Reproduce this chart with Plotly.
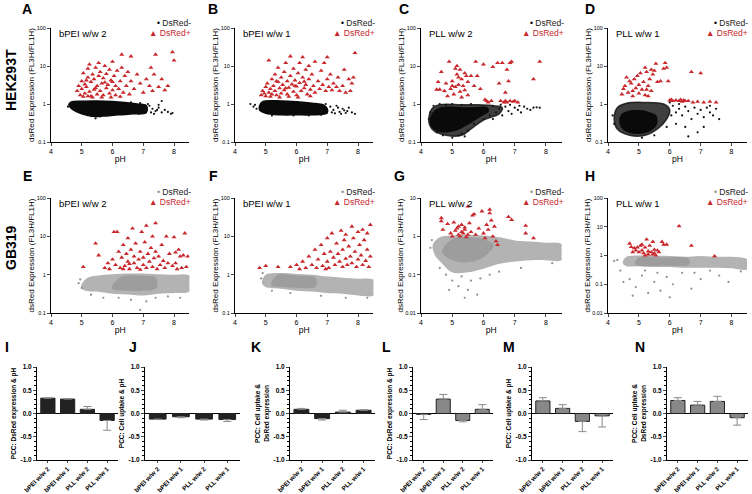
import plotly.graph_objects as go

W, H = 752, 494
FONT = "Liberation Sans"
RED = "#c9282d"
BLACK = "#111111"
GRAY = "#a3a3a3"

# ---------------- scatter data (pH, dsRed expression) ----------------
# A: HEK293T bPEI w/w 2
A_neg_core = [(4.58,0.95),(4.65,1.12),(5.0,1.18),(5.5,1.2),(6.0,1.17),(6.4,1.1),(6.8,1.0),(7.1,0.9),
              (7.1,0.6),(6.7,0.55),(6.2,0.52),(5.7,0.48),(5.4,0.47),(5.0,0.55),(4.7,0.72)]
A_neg_pts = [(7.2,0.9),(7.3,0.75),(7.4,0.65),(7.5,0.8),(7.6,0.6),(7.7,0.7),(7.8,0.62),(7.9,0.55),(7.6,1.2),
             (7.5,0.95),(7.25,0.6),(7.15,1.0),(6.9,1.05),(6.6,1.1),(7.0,0.58),(6.85,0.55),(5.45,0.42),(5.3,0.48),
             (5.6,0.47),(4.55,0.85),(7.95,0.58),(7.35,0.55),(7.45,0.7),(6.95,0.72),(7.05,0.68)]
A_pos = [(4.85,2.2),(4.9,3.0),(4.95,1.7),(5.0,2.5),(5.0,4.0),(5.05,6.5),(5.1,1.9),(5.1,3.3),(5.15,2.8),(5.2,5.0),
         (5.2,8.5),(5.25,2.1),(5.25,11),(5.3,3.8),(5.3,1.6),(5.35,6.0),(5.4,2.4),(5.4,4.5),(5.45,9.0),(5.5,3.0),
         (5.5,1.8),(5.55,5.5),(5.55,12),(5.6,2.2),(5.6,7.0),(5.65,3.5),(5.7,1.7),(5.7,4.8),(5.75,10),(5.8,2.6),
         (5.8,6.2),(5.85,3.2),(5.9,1.9),(5.9,8.0),(5.95,4.2),(6.0,2.3),(6.0,13),(6.05,5.5),(6.1,3.0),(6.1,1.7),
         (6.15,7.5),(6.2,2.5),(6.25,4.0),(6.3,20),(6.3,9.0),(6.35,2.0),(6.4,5.5),(6.45,3.0),(6.5,7.0),(6.55,1.8),
         (6.6,18),(6.6,4.0),(6.7,2.5),(6.8,6.0),(6.9,3.5),(7.0,2.0),(7.1,4.5),(7.2,3.0),(7.3,2.2),(7.35,6.0),
         (7.4,20),(7.5,2.8),(7.6,4.5),(7.7,2.3),(7.8,3.0),(7.95,23),(8.0,14),(7.25,9),(5.05,1.55),(5.35,1.5),
         (5.65,1.5),(5.95,1.5),(6.25,1.55),(5.15,4.2),(5.45,2.6),(5.75,3.7),(6.0,3.8),(5.2,1.6)]

# B: HEK293T bPEI w/w 1
B_neg_core = [(4.8,0.9),(4.9,1.15),(5.5,1.2),(6.0,1.15),(6.5,1.05),(6.9,0.92),(7.0,0.75),(7.0,0.58),(6.5,0.52),
              (6.0,0.52),(5.5,0.52),(5.0,0.57),(4.8,0.7)]
B_neg_pts = [(4.5,1.0),(4.6,0.85),(4.7,0.75),(4.65,0.95),(7.1,0.85),(7.2,0.7),(7.3,0.9),(7.4,0.62),(7.5,0.75),
             (7.6,0.58),(7.7,0.8),(7.8,0.6),(7.9,0.55),(7.45,0.55),(7.15,0.6),(6.95,1.0),(7.35,0.8),(7.55,0.68),
             (7.25,0.57),(5.2,0.5),(5.9,0.5),(6.4,0.5),(6.8,0.52),(7.65,0.65)]
B_pos = [(4.85,1.7),(4.9,2.2),(4.95,1.9),(5.0,2.8),(5.0,1.6),(5.05,3.5),(5.1,2.0),(5.1,14),(5.15,2.5),(5.2,4.5),
         (5.2,1.8),(5.25,3.0),(5.3,6.0),(5.3,2.2),(5.35,1.7),(5.4,3.8),(5.4,9.0),(5.45,2.6),(5.5,5.0),(5.5,1.9),
         (5.55,3.2),(5.6,7.0),(5.6,2.3),(5.65,12),(5.7,4.0),(5.7,1.8),(5.75,2.7),(5.8,18),(5.8,5.5),(5.85,3.3),
         (5.9,2.1),(5.9,8.5),(5.95,4.2),(6.0,1.7),(6.0,2.9),(6.05,6.5),(6.1,12),(6.1,3.6),(6.15,2.2),(6.2,5.0),
         (6.2,17),(6.25,2.6),(6.3,8.0),(6.3,3.2),(6.35,1.8),(6.4,4.5),(6.4,10),(6.45,2.4),(6.5,6.0),(6.55,3.0),
         (6.6,13),(6.6,2.0),(6.7,4.0),(6.75,2.5),(6.8,7.5),(6.85,3.2),(6.9,12),(6.95,2.2),(7.0,17),(7.0,4.5),
         (7.05,2.8),(7.1,6.0),(7.15,2.3),(7.2,3.5),(7.3,2.8),(7.35,5.0),(7.4,2.2),(7.5,3.0),(7.55,8),(7.6,2.0),
         (7.7,4.5),(7.75,2.2),(7.8,3.5),(7.9,22),(7.85,5.0),(5.15,1.55),(5.45,1.5),(5.75,1.55),(6.05,1.5),
         (6.45,1.6),(5.35,4.0),(5.65,2.6),(5.95,3.0),(6.25,3.9)]

# C: HEK293T PLL w/w 2
C_neg_wide = [(4.25,0.35),(4.35,0.75),(4.6,0.95),(5.3,0.95),(5.8,0.95),(6.3,0.9),(6.6,0.8),(6.5,0.55),(6.0,0.38),
              (5.6,0.22),(5.3,0.15),(4.8,0.15),(4.4,0.2)]
C_neg_core = [(4.3,0.32),(4.4,0.6),(4.6,0.78),(5.0,0.82),(5.4,0.78),(5.8,0.8),(6.1,0.8),(6.15,0.65),(5.9,0.48),
              (5.5,0.3),(5.2,0.22),(4.9,0.19),(4.6,0.19),(4.4,0.23)]
C_neg_pts = [(4.25,0.4),(4.3,0.6),(4.4,0.9),(4.6,1.0),(4.8,0.95),(5.0,1.0),(5.3,0.95),(5.6,1.0),(5.3,0.17),
             (5.4,0.14),(5.2,0.15),(5.5,0.2),(5.7,0.3),(6.0,0.4),(6.3,0.9),(6.4,0.6),(6.5,0.75),(6.6,0.5),
             (6.7,0.85),(6.8,0.65),(6.9,0.55),(7.0,0.8),(7.1,0.7),(7.2,0.6),(7.3,0.85),(7.4,0.75),(7.5,0.7),
             (7.6,0.8),(7.7,0.82),(7.8,0.8),(6.2,0.5),(6.3,0.4),(4.7,0.15),(4.5,0.18),(5.0,0.13),(6.55,0.95),
             (6.85,0.95),(7.15,0.9)]
C_pos = [(4.5,2.4),(4.6,2.4),(4.65,7.0),(4.75,2.2),(4.8,3.5),(4.85,1.6),(4.9,13),(4.95,2.5),(5.0,4.0),(5.05,1.8),
         (5.1,8.5),(5.1,2.8),(5.15,6.0),(5.15,10),(5.2,3.2),(5.2,5.0),(5.25,2.1),(5.25,8.0),(5.3,4.5),(5.3,1.5),
         (5.35,3.0),(5.4,6.5),(5.4,2.3),(5.45,5.5),(5.5,1.7),(5.5,3.8),(5.6,5.5),(5.7,3.0),(5.75,13),(5.8,5.5),
         (5.9,2.5),(6.0,11),(6.05,1.3),(6.1,1.2),(6.15,1.1),(6.3,9.5),(6.45,12),(6.5,3.5),(6.55,1.2),(6.6,12),
         (6.65,1.1),(6.7,2.0),(6.7,1.2),(6.75,8.0),(6.75,1.1),(6.8,4.0),(6.85,12),(6.9,13),(6.85,1.2),(7.0,1.2),
         (7.1,1.1),(7.6,4.5),(7.8,13),(5.0,3.0),(4.55,3.8),(6.25,1.2),(6.95,1.15)]

# D: HEK293T PLL w/w 1
D_neg_wide = [(4.2,0.4),(4.3,0.8),(4.6,1.05),(5.2,1.1),(5.8,1.0),(6.0,0.7),(5.9,0.4),(5.6,0.22),(5.2,0.15),
              (4.7,0.15),(4.3,0.22)]
D_neg_core = [(4.4,0.3),(4.45,0.52),(4.7,0.65),(5.0,0.66),(5.3,0.6),(5.55,0.48),(5.55,0.28),(5.3,0.19),(5.0,0.17),
              (4.7,0.18),(4.5,0.22)]
D_neg_pts = [(6.1,0.9),(6.2,0.6),(6.3,0.75),(6.4,0.5),(6.5,0.85),(6.6,0.65),(6.7,0.4),(6.8,0.8),(6.9,0.55),
             (7.0,0.7),(7.1,0.45),(7.2,0.8),(7.3,0.6),(7.4,0.5),(7.5,0.75),(7.6,0.4),(6.2,0.3),(6.5,0.25),
             (6.9,0.18),(7.1,0.25),(6.0,1.1),(6.3,1.0),(5.9,0.25),(4.15,0.5),(4.2,0.3),(5.1,0.13),(5.5,0.15),
             (6.6,0.14),(7.3,0.9),(6.05,0.5)]
D_pos = [(4.45,1.8),(4.5,2.5),(4.55,3.0),(4.6,5.0),(4.65,2.0),(4.7,4.0),(4.75,3.5),(4.8,2.2),(4.8,1.6),(4.85,4.5),
         (4.9,2.6),(4.95,5.5),(5.0,1.9),(5.0,3.2),(5.05,6.5),(5.1,2.4),(5.15,3.8),(5.2,9.0),(5.2,1.7),(5.25,7.0),
         (5.3,3.0),(5.3,1.6),(5.35,4.5),(5.4,8.0),(5.4,2.2),(5.45,6.0),(5.5,7.5),(5.55,11.5),(5.6,3.8),(5.7,4.0),
         (5.8,8.5),(5.85,12),(5.9,9.0),(5.95,4.0),(6.0,1.25),(6.05,1.3),(6.1,1.2),(6.2,1.25),(6.3,1.2),(6.4,1.15),
         (6.5,1.2),(6.6,1.2),(6.7,7.0),(6.75,1.1),(6.9,1.15),(7.0,6.5),(7.1,1.1),(7.3,1.15),(7.5,1.1),(5.25,2.4),
         (6.35,1.3),(6.45,1.25)]

# E: GB319 bPEI w/w 2
E_neg_wide = [(5.0,0.5),(5.2,0.8),(5.6,0.92),(6.0,0.98),(6.5,1.02),(7.0,1.02),(7.5,0.98),(8.0,0.95),(8.5,0.9),
              (8.5,0.38),(8.0,0.35),(7.5,0.33),(7.0,0.3),(6.5,0.32),(6.0,0.33),(5.5,0.38),(5.1,0.4)]
E_neg_core = [(6.0,0.45),(6.3,0.85),(7.0,0.9),(7.4,0.8),(7.4,0.45),(7.0,0.4),(6.5,0.4)]
E_neg_pts = [(4.9,0.6),(5.0,0.45),(4.95,0.75),(6.9,0.12),(6.6,0.22),(7.1,0.2),(5.7,0.25),(8.2,0.25),(7.8,0.27),
             (6.2,0.25),(5.3,0.3),(7.4,0.25)]
E_pos = [(5.05,1.6),(5.45,6.5),(5.55,3.2),(5.75,1.5),(5.85,2.0),(5.9,1.4),(6.0,2.5),(6.05,13),(6.1,1.8),(6.15,13),
         (6.2,4.0),(6.25,1.5),(6.3,2.8),(6.35,6.0),(6.4,1.7),(6.45,3.5),(6.5,9.0),(6.5,2.2),(6.55,1.4),(6.6,4.5),
         (6.65,16),(6.7,2.0),(6.7,3.0),(6.75,6.5),(6.8,1.5),(6.85,2.5),(6.9,4.0),(6.95,13),(7.0,1.8),(7.0,2.8),
         (7.05,7.0),(7.1,19),(7.1,1.5),(7.15,3.5),(7.2,2.2),(7.25,5.0),(7.3,1.6),(7.35,2.7),(7.4,22),(7.4,4.0),
         (7.45,1.4),(7.5,3.0),(7.55,1.8),(7.6,6.0),(7.65,2.3),(7.7,1.5),(7.75,10),(7.8,2.0),(7.85,3.5),(7.95,1.7),
         (8.0,9.5),(8.05,2.0),(8.1,1.4),(8.15,4.5),(8.2,3.0),(8.25,1.5),(8.3,3.2),(8.35,12),(8.4,1.6),(8.45,3.0),
         (6.35,1.4),(6.9,1.35),(7.3,10),(8.05,3.8),(6.55,1.9)]

# F: GB319 bPEI w/w 1
F_neg_wide = [(4.9,0.6),(5.0,0.95),(5.5,1.05),(6.0,1.0),(6.5,0.95),(7.0,0.85),(7.5,0.8),(8.0,0.75),(8.5,0.7),
              (8.5,0.3),(8.0,0.3),(7.5,0.33),(7.0,0.35),(6.5,0.38),(6.0,0.4),(5.5,0.45),(5.0,0.5)]
F_neg_core = [(5.2,0.55),(5.4,0.95),(6.0,0.9),(6.6,0.8),(6.6,0.5),(6.0,0.48),(5.5,0.5)]
F_neg_pts = [(4.85,0.8),(4.9,1.1),(5.2,0.38),(6.8,0.28),(7.6,0.25),(8.3,0.25),(5.8,0.33)]
F_pos = [(4.8,1.5),(5.0,1.7),(5.4,1.6),(5.8,1.6),(6.0,1.8),(6.2,2.2),(6.3,1.5),(6.4,3.0),(6.5,1.8),(6.6,4.5),
         (6.65,1.5),(6.7,2.5),(6.8,6.0),(6.85,1.7),(6.9,3.5),(7.0,2.2),(7.0,9.0),(7.05,1.5),(7.1,4.0),(7.15,12),
         (7.2,2.8),(7.25,1.8),(7.3,6.5),(7.35,3.5),(7.4,2.2),(7.45,14),(7.5,1.6),(7.5,4.5),(7.55,8.0),(7.6,2.6),
         (7.65,1.8),(7.7,5.5),(7.75,3.0),(7.8,18),(7.8,2.0),(7.85,9.0),(7.9,4.0),(7.95,1.6),(8.0,2.5),(8.0,13),
         (8.05,6.0),(8.1,3.2),(8.15,1.8),(8.2,8.0),(8.25,2.3),(8.3,12),(8.3,4.5),(8.35,1.6),(8.4,3.0),(8.4,20),
         (6.1,1.4),(6.95,1.4),(7.6,11),(8.15,15)]

# G: GB319 PLL w/w 2
G_neg_wide = [(4.4,0.6),(4.6,0.9),(5.0,1.0),(5.5,1.05),(6.0,1.0),(6.5,0.9),(7.0,0.75),(7.5,0.7),(8.0,0.65),
              (8.5,0.6),(8.5,0.25),(8.0,0.25),(7.5,0.25),(7.0,0.23),(6.5,0.2),(6.0,0.15),(5.5,0.12),(5.0,0.12),
              (4.7,0.2),(4.45,0.35)]
G_neg_core = [(4.7,0.4),(5.0,0.8),(5.5,0.9),(6.0,0.8),(6.3,0.6),(6.0,0.3),(5.5,0.22),(5.0,0.25)]
G_neg_pts = [(4.3,0.5),(4.35,0.8),(4.6,0.15),(4.8,0.1),(5.0,0.07),(5.2,0.05),(5.3,0.09),(5.5,0.04),(5.8,0.03),
             (5.6,0.07),(5.9,0.08),(6.2,0.1),(4.9,0.04),(5.4,0.025),(6.5,0.12),(7.2,0.15),(8.2,0.2)]
G_pos = [(4.65,3.0),(4.65,2.5),(4.7,1.5),(4.85,2.1),(4.95,1.2),(5.05,2.3),(5.1,1.4),(5.15,1.6),(5.2,1.1),(5.2,1.8),
         (5.25,1.0),(5.3,1.3),(5.3,2.0),(5.35,1.2),(5.4,1.5),(5.45,0.95),(5.5,6.0),(5.5,1.1),(5.55,2.2),(5.6,1.3),
         (5.65,3.5),(5.7,3.8),(5.75,1.1),(5.85,1.6),(5.95,4.5),(6.0,1.2),(6.05,0.9),(6.1,2.0),(6.15,1.5),(6.2,5.0),
         (6.2,4.0),(6.25,2.6),(6.3,1.0),(6.35,1.8),(6.4,0.75),(6.45,0.6),(6.8,3.2),(6.9,2.7),(7.35,1.9),(7.35,1.2),
         (7.6,0.9),(5.4,1.7),(5.0,1.0)]

# H: GB319 PLL w/w 1
H_neg_wide = [(4.5,0.55),(4.6,0.85),(5.0,0.95),(5.5,0.95),(6.0,0.9),(6.5,0.85),(7.0,0.9),(7.5,0.85),(8.0,0.85),
              (8.5,0.7),(8.5,0.35),(8.0,0.38),(7.5,0.4),(7.0,0.4),(6.5,0.4),(6.0,0.42),(5.5,0.42),(5.0,0.45),
              (4.6,0.45)]
H_neg_core = [(4.9,0.5),(5.0,0.8),(5.8,0.8),(6.6,0.75),(6.6,0.5),(5.8,0.48)]
H_neg_pts = [(4.3,0.7),(4.2,0.65),(4.4,0.3),(4.7,0.15),(4.9,0.08),(5.1,0.2),(5.3,0.05),(5.5,0.12),(5.7,0.06),
             (5.9,0.18),(6.1,0.1),(6.4,0.25),(6.7,0.07),(7.0,0.15),(7.3,0.3),(7.6,0.2),(7.9,0.12),(8.3,0.28),
             (5.2,0.3),(4.8,0.04),(6.0,0.035),(6.8,0.25),(4.5,0.12),(5.6,0.25)]
H_pos = [(4.7,2.6),(4.75,2.0),(4.8,1.3),(4.85,1.8),(4.9,1.5),(4.95,1.9),(5.0,1.3),(5.05,2.2),(5.1,1.5),(5.15,1.2),
         (5.2,1.9),(5.25,3.6),(5.3,1.4),(5.3,1.1),(5.35,2.2),(5.4,1.3),(5.45,3.0),(5.5,1.2),(5.5,1.6),(5.55,1.0),
         (5.6,1.5),(5.65,1.3),(5.75,3.0),(5.8,2.4),(5.9,2.4),(6.3,10.5),(6.7,2.2),(7.45,0.95),(5.2,1.0),(5.45,1.1),
         (5.1,2.4)]

CONDITIONS = ["bPEI w/w 2", "bPEI w/w 1", "PLL w/w 2", "PLL w/w 1"]
PH_TICKS = [4, 5, 6, 7, 8]

# ---------------- bar data (Pearson correlation coefficients) ----------------
I_mean = [0.33, 0.31, 0.09, -0.15];  I_err = [0.005, 0.01, 0.06, 0.21]
J_mean = [-0.12, -0.07, -0.12, -0.13]; J_err = [0.01, 0.02, 0.02, 0.04]
K_mean = [0.09, -0.11, 0.03, 0.07];  K_err = [0.02, 0.03, 0.04, 0.01]
L_mean = [-0.02, 0.31, -0.15, 0.09]; L_err = [0.11, 0.10, 0.03, 0.10]
M_mean = [0.27, 0.11, -0.17, -0.05]; M_err = [0.07, 0.08, 0.22, 0.24]
N_mean = [0.28, 0.18, 0.26, -0.09];  N_err = [0.06, 0.08, 0.11, 0.16]
PCC_TICKS = [-1.0, -0.5, 0.0, 0.5, 1.0]
PCC_LABELS = ["-1.0", "-0.5", "0.0", "0.5", "1.0"]

# ---------------- layout helpers ----------------
def fx(px):
    return px / W

def fy(py):
    return 1 - py / H

fig = go.Figure()
annotations = []

def unzip(pairs):
    return [p[0] for p in pairs], [p[1] for p in pairs]

scatter_panels = [
    ("A", 51, 189.4, 28, 142, [-1, 2], BLACK, [("core", A_neg_core)], A_neg_pts, A_pos, CONDITIONS[0]),
    ("B", 235, 373.4, 28, 142, [-1, 2], BLACK, [("core", B_neg_core)], B_neg_pts, B_pos, CONDITIONS[1]),
    ("C", 421, 561.6, 28, 142, [-1, 2], BLACK, [("wide", C_neg_wide), ("core", C_neg_core)], C_neg_pts, C_pos, CONDITIONS[2]),
    ("D", 608, 747.0, 28, 142, [-1, 2], BLACK, [("wide", D_neg_wide), ("core", D_neg_core)], D_neg_pts, D_pos, CONDITIONS[3]),
    ("E", 51, 189.4, 198, 313, [-1, 2], GRAY, [("wide", E_neg_wide), ("core", E_neg_core)], E_neg_pts, E_pos, CONDITIONS[0]),
    ("F", 235, 373.4, 198, 313, [-1, 2], GRAY, [("wide", F_neg_wide), ("core", F_neg_core)], F_neg_pts, F_pos, CONDITIONS[1]),
    ("G", 421, 561.6, 198, 313, [-2, 1], GRAY, [("wide", G_neg_wide), ("core", G_neg_core)], G_neg_pts, G_pos, CONDITIONS[2]),
    ("H", 608, 747.0, 198, 313, [-2, 2], GRAY, [("wide", H_neg_wide), ("core", H_neg_core)], H_neg_pts, H_pos, CONDITIONS[3]),
]

LETTER_POS = {"A": (27, 9), "B": (213, 9), "C": (404, 9), "D": (590, 9),
              "E": (27, 176), "F": (213, 176), "G": (399, 176), "H": (590, 176),
              "I": (7, 347), "J": (133, 347), "K": (256, 347), "L": (386, 347),
              "M": (509, 347), "N": (640, 347)}

def fill_colors(neg_color, kind):
    if neg_color == BLACK:
        return ("#0a0a0a", "#0a0a0a") if kind == "core" else ("rgba(15,15,15,0.8)", "rgba(15,15,15,0.8)")
    return ("#9d9d9d", "#9d9d9d") if kind == "core" else ("#b3b3b3", "#b3b3b3")

axis_id = 0
for (letter, x0, x1, yt, yb, yr, negc, hulls, negpts, pospts, cond) in scatter_panels:
    axis_id += 1
    xa = "x" if axis_id == 1 else f"x{axis_id}"
    ya = "y" if axis_id == 1 else f"y{axis_id}"
    for kind, hull in hulls:
        hx, hy = unzip(hull + hull[:1])
        fc, lc = fill_colors(negc, kind)
        fig.add_trace(go.Scatter(x=hx, y=hy, mode="lines", fill="toself", fillcolor=fc,
                                 line=dict(color=lc, width=1.5, shape="spline", smoothing=1.0),
                                 xaxis=xa, yaxis=ya, hoverinfo="skip"))
    nx, ny = unzip(negpts)
    fig.add_trace(go.Scatter(x=nx, y=ny, mode="markers", xaxis=xa, yaxis=ya,
                             marker=dict(color=negc if negc == BLACK else "#8f8f8f", size=2.2)))
    px_, py_ = unzip(pospts)
    fig.add_trace(go.Scatter(x=px_, y=py_, mode="markers", xaxis=xa, yaxis=ya,
                             marker=dict(color=RED, size=4.4, symbol="triangle-up")))

    if yr == [-1, 2]:
        tv = [0.1, 1, 10, 100]
    elif yr == [-2, 1]:
        tv = [0.01, 0.1, 1, 10]
    else:
        tv = [0.01, 0.1, 1, 10, 100]
    tt = [("%g" % v) for v in tv]

    fig.layout[f"xaxis{axis_id}"] = dict(
        domain=[fx(x0), fx(x1)], anchor=ya, range=[4, 8.5], tickvals=PH_TICKS, automargin=False,
        showline=True, linecolor="black", linewidth=1, ticks="outside", ticklen=3,
        tickwidth=1, showgrid=False, zeroline=False,
        tickfont=dict(family=FONT, size=7, color="black"),
        title=dict(text="pH", font=dict(family=FONT, size=8.5, color="black"), standoff=1))
    fig.layout[f"yaxis{axis_id}"] = dict(
        domain=[fy(yb), fy(yt)], anchor=xa, type="log", range=yr, tickvals=tv, ticktext=tt,
        automargin=False,
        showline=True, linecolor="black", linewidth=1, ticks="outside", ticklen=3,
        tickwidth=1, showgrid=False, zeroline=False,
        tickfont=dict(family=FONT, size=5.5, color="black"),
        title=dict(text="dsRed Expression (FL3H/FL1H)", font=dict(family=FONT, size=8, color="black"),
                   standoff=0))

    annotations.append(dict(x=fx(x0 + 6), y=fy(yt + 5), xref="paper", yref="paper", text=cond,
                            showarrow=False, xanchor="left", yanchor="middle",
                            font=dict(family=FONT, size=9.5, color="black")))
    dot_col = "black" if negc == BLACK else "#8f8f8f"
    right = min(x1 + 4, 750)
    annotations.append(dict(x=fx(right), y=fy(yt - 5 if yt < 100 else yt - 6), xref="paper", yref="paper",
                            text=f"<span style='color:{dot_col}'>•</span> DsRed-",
                            showarrow=False, xanchor="right", yanchor="middle",
                            font=dict(family=FONT, size=8.5, color="#222222")))
    annotations.append(dict(x=fx(right), y=fy(yt + 5 if yt < 100 else yt + 4), xref="paper", yref="paper",
                            text="▲ DsRed+", showarrow=False, xanchor="right", yanchor="middle",
                            font=dict(family=FONT, size=8.5, color=RED)))

bar_panels = [
    ("I", 37, 118, I_mean, I_err, "#222222", "PCC: DsRed expression & pH"),
    ("J", 145, 240, J_mean, J_err, "#222222", "PCC: Cell uptake & pH"),
    ("K", 290, 375, K_mean, K_err, "#222222", "PCC: Cell uptake &<br>DsRed expression"),
    ("L", 413, 493, L_mean, L_err, "#888888", "PCC: DsRed expression & pH"),
    ("M", 532, 613, M_mean, M_err, "#888888", "PCC: Cell uptake & pH"),
    ("N", 667, 748, N_mean, N_err, "#888888", "PCC: Cell uptake &<br>DsRed expression"),
]
for (letter, x0, x1, means, errs, col, ytitle) in bar_panels:
    axis_id += 1
    xa, ya = f"x{axis_id}", f"y{axis_id}"
    plus = [e if m >= 0 else 0 for m, e in zip(means, errs)]
    minus = [e if m < 0 else 0 for m, e in zip(means, errs)]
    fig.add_trace(go.Bar(x=[0, 1, 2, 3], y=means, width=0.72, xaxis=xa, yaxis=ya,
                         marker=dict(color=col, line=dict(color="#222222", width=1)),
                         error_y=dict(type="data", array=plus, arrayminus=minus, symmetric=False,
                                      color="#8a8a8a", thickness=1, width=4)))
    fig.layout[f"xaxis{axis_id}"] = dict(
        domain=[fx(x0), fx(x1)], anchor=ya, range=[-0.55, 3.55], tickvals=[0, 1, 2, 3],
        automargin=False,
        ticktext=CONDITIONS, tickangle=-45, showline=True, linecolor="black", linewidth=1,
        ticks="outside", ticklen=2, showgrid=False, zeroline=False,
        tickfont=dict(family=FONT, size=6.3, color="black", weight="bold"))
    fig.layout[f"yaxis{axis_id}"] = dict(
        domain=[fy(460), fy(367)], anchor=xa, range=[-1, 1], tickvals=PCC_TICKS, ticktext=PCC_LABELS,
        automargin=False,
        showline=True, linecolor="black", linewidth=1, ticks="outside", ticklen=3,
        showgrid=False, zeroline=True, zerolinecolor="black", zerolinewidth=1,
        minor=dict(ticks="outside", ticklen=2, dtick=0.1, tick0=0, tickcolor="black"),
        tickfont=dict(family=FONT, size=6.5, color="black", weight="bold"),
        title=dict(text=ytitle, font=dict(family=FONT, size=6.5, color="black", weight="bold"), standoff=3))

for letter, (lx, ly) in LETTER_POS.items():
    annotations.append(dict(x=fx(lx), y=fy(ly), xref="paper", yref="paper", text=f"<b>{letter}</b>",
                            showarrow=False, xanchor="center", yanchor="middle",
                            font=dict(family=FONT, size=14, color="black")))

annotations.append(dict(x=fx(11), y=fy(80), xref="paper", yref="paper", text="<b>HEK293T</b>",
                        showarrow=False, textangle=-90, xanchor="center", yanchor="middle",
                        font=dict(family=FONT, size=14, color="black")))
annotations.append(dict(x=fx(11), y=fy(248), xref="paper", yref="paper", text="<b>GB319</b>",
                        showarrow=False, textangle=-90, xanchor="center", yanchor="middle",
                        font=dict(family=FONT, size=14, color="black")))

fig.update_layout(template="none", width=W, height=H, margin=dict(l=0, r=0, t=0, b=0, autoexpand=False),
                  paper_bgcolor="white", plot_bgcolor="white", showlegend=False,
                  annotations=annotations, font=dict(family=FONT, color="black"))
fig.write_html("out.html", config={"displayModeBar": False},
               post_script="document.body.style.margin='0px';document.body.style.overflow='hidden';")
